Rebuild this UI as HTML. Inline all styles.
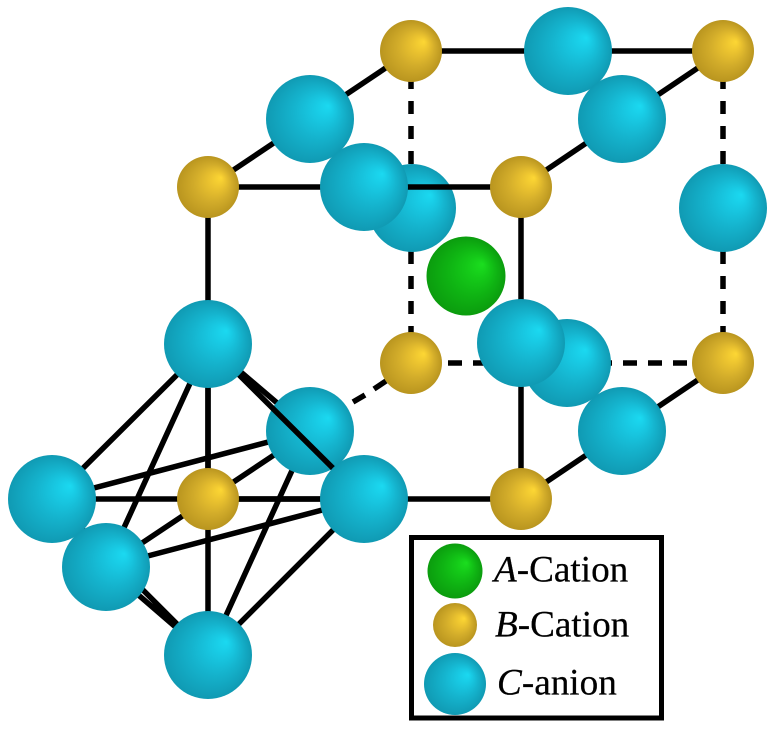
<!DOCTYPE html>
<html>
<head>
<meta charset="utf-8">
<style>
html,body{margin:0;padding:0;background:#fff;width:771px;height:729px;overflow:hidden}
svg{display:block}
text{font-family:"Liberation Serif",serif;font-size:37.2px;fill:#000;stroke:#000;stroke-width:.25px}
tspan.i{font-style:italic}
</style>
</head>
<body>
<svg width="771" height="729" viewBox="0 0 771 729" xmlns="http://www.w3.org/2000/svg">
<defs>
<radialGradient id="c" cx=".5" cy=".5" r=".5" fx=".71" fy=".35">
<stop offset="0" stop-color="#1bd9f1"/><stop offset=".25" stop-color="#18c8e2"/><stop offset=".55" stop-color="#15b4ce"/><stop offset="1" stop-color="#109ab3"/>
</radialGradient>
<radialGradient id="b" cx=".5" cy=".5" r=".5" fx=".71" fy=".35">
<stop offset="0" stop-color="#fdd734"/><stop offset=".28" stop-color="#eac22f"/><stop offset=".6" stop-color="#d2ac2a"/><stop offset="1" stop-color="#b9951f"/>
</radialGradient>
<radialGradient id="a" cx=".5" cy=".5" r=".5" fx=".71" fy=".35">
<stop offset="0" stop-color="#1bde1f"/><stop offset=".28" stop-color="#14c918"/><stop offset=".6" stop-color="#0fb413"/><stop offset="1" stop-color="#0b9c0e"/>
</radialGradient>
</defs>

<g stroke="#000" stroke-width="5.5" fill="none">
<!-- dashed back edges -->
<path d="M411 51V363M723 51V363" stroke-dasharray="13 12"/>
<path d="M448 363H723" stroke-dasharray="14 11"/>
<path d="M353 402L365 395M374 389L386 381"/>
<!-- solid cube edges -->
<path d="M411 51H723M411 51L208 187M723 51L521 187"/>
<path d="M521 187V499M208 187V499M208 499H521M723 363L521 499"/>
<!-- octahedron -->
<path d="M208 344L52 499M208 344L106 567M208 344V655M208 344L310 431"/>
<path d="M208 655L52 499M208 655L106 567M208 655L364 499M208 655L310 431"/>
<path d="M52 499L310 431M52 499H364M106 567L364 499M106 567L310 431"/>
</g>

<circle cx="310" cy="431" r="44" fill="url(#c)"/>
<circle cx="412" cy="208" r="44" fill="url(#c)"/>

<g stroke="#000" stroke-width="5.5" fill="none">
<path d="M208 344L364 499"/>
<path d="M208 187H521"/>
</g>

<circle cx="411" cy="51" r="31" fill="url(#b)"/>
<circle cx="723" cy="51" r="31" fill="url(#b)"/>
<circle cx="208" cy="187" r="31" fill="url(#b)"/>
<circle cx="521" cy="187" r="31" fill="url(#b)"/>
<circle cx="411" cy="363" r="31" fill="url(#b)"/>
<circle cx="723" cy="363" r="31" fill="url(#b)"/>
<circle cx="208" cy="499" r="31" fill="url(#b)"/>
<circle cx="521" cy="499" r="31" fill="url(#b)"/>

<circle cx="466" cy="276" r="39.5" fill="url(#a)"/>

<circle cx="568" cy="51" r="44" fill="url(#c)"/>
<circle cx="622" cy="119" r="44" fill="url(#c)"/>
<circle cx="310" cy="119" r="44" fill="url(#c)"/>
<circle cx="364" cy="187" r="44" fill="url(#c)"/>
<circle cx="723" cy="208" r="44" fill="url(#c)"/>
<circle cx="567" cy="363" r="44" fill="url(#c)"/>
<circle cx="622" cy="431" r="44" fill="url(#c)"/>
<circle cx="521" cy="343" r="44" fill="url(#c)"/>
<circle cx="208" cy="344" r="44" fill="url(#c)"/>
<circle cx="52" cy="499" r="44" fill="url(#c)"/>
<circle cx="364" cy="499" r="44" fill="url(#c)"/>
<circle cx="106" cy="567" r="44" fill="url(#c)"/>
<circle cx="208" cy="655" r="44" fill="url(#c)"/>

<!-- legend -->
<rect x="411.5" y="537.5" width="250" height="180.5" fill="#fff" stroke="#000" stroke-width="5"/>
<circle cx="455" cy="571" r="27.5" fill="url(#a)"/>
<circle cx="455" cy="625" r="22" fill="url(#b)"/>
<circle cx="455" cy="684" r="31" fill="url(#c)"/>
<text x="494" y="581.5"><tspan class="i">A</tspan>-Cation</text>
<text x="495" y="636.5"><tspan class="i">B</tspan>-Cation</text>
<text x="497" y="694.5"><tspan class="i">C</tspan>-anion</text>
</svg>
</body>
</html>
